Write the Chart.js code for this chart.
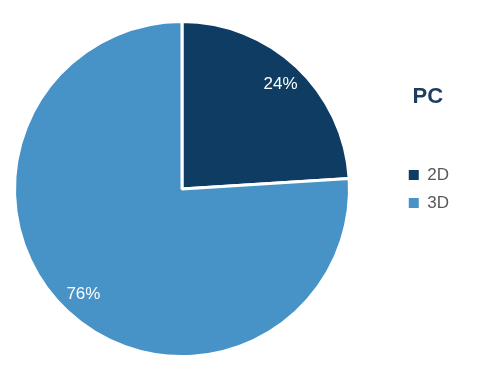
<!DOCTYPE html>
<html>
<head>
<meta charset="utf-8">
<script src="https://cdn.jsdelivr.net/npm/chart.js@4/dist/chart.umd.min.js"></script>
<style>
html,body{margin:0;padding:0;background:#fff;}
#wrap{width:477px;height:380px;position:relative;}
</style>
</head>
<body>
<div id="wrap"><canvas id="c" width="477" height="380"></canvas></div>
<script>
const categories = ["2D", "3D"];
const values = [24, 76];
const colors = ["#0e3c62", "#4792c6"];
const legendTitle = "PC";

const FONT = "'Liberation Sans', Arial, sans-serif";

const pctLabels = {
  id: 'pctLabels',
  afterDatasetsDraw(chart) {
    const ctx = chart.ctx;
    const meta = chart.getDatasetMeta(0);
    const total = values.reduce((a, b) => a + b, 0);
    ctx.save();
    ctx.fillStyle = '#ffffff';
    ctx.font = "17px " + FONT;
    ctx.textAlign = 'center';
    ctx.textBaseline = 'middle';
    meta.data.forEach((arc, i) => {
      const p = arc.getProps(['x', 'y', 'startAngle', 'endAngle', 'outerRadius'], true);
      const mid = (p.startAngle + p.endAngle) / 2;
      const r = p.outerRadius * 0.86;
      const pct = Math.round(values[i] / total * 100) + '%';
      ctx.fillText(pct, p.x + Math.cos(mid) * r, p.y + Math.sin(mid) * r);
    });
    ctx.restore();
  }
};

// keep the pie in the left part of the canvas, leaving a gap before the legend
const pieArea = {
  id: 'pieArea',
  afterLayout(chart) {
    const a = chart.chartArea;
    a.right = 364;
    a.width = a.right - a.left;
  }
};

const legendHeading = {
  id: 'legendHeading',
  afterDraw(chart) {
    const lg = chart.legend;
    const ctx = chart.ctx;
    ctx.save();
    ctx.fillStyle = '#1c3d5e';
    ctx.font = "bold 22px " + FONT;
    ctx.textAlign = 'center';
    ctx.textBaseline = 'middle';
    ctx.fillText(legendTitle, lg.left + 11 + 19, 97);
    ctx.restore();
  }
};

new Chart(document.getElementById('c'), {
  type: 'pie',
  data: {
    labels: categories,
    datasets: [{
      data: values,
      backgroundColor: colors,
      borderColor: '#ffffff',
      borderWidth: 3,
      hoverOffset: 0
    }]
  },
  options: {
    responsive: false,
    animation: false,
    layout: { padding: { left: 0, right: 18, top: 20, bottom: 22 } },
    plugins: {
      tooltip: { enabled: false },
      legend: {
        position: 'right',
        align: 'center',
        labels: {
          boxWidth: 10,
          boxHeight: 10,
          padding: 11,
          color: '#595959',
          font: { size: 17, family: FONT },
          generateLabels(chart) {
            return Chart.overrides.pie.plugins.legend.labels.generateLabels(chart)
              .map(l => Object.assign(l, { lineWidth: 0 }));
          }
        }
      }
    }
  },
  plugins: [pieArea, pctLabels, legendHeading]
});
</script>
</body>
</html>
